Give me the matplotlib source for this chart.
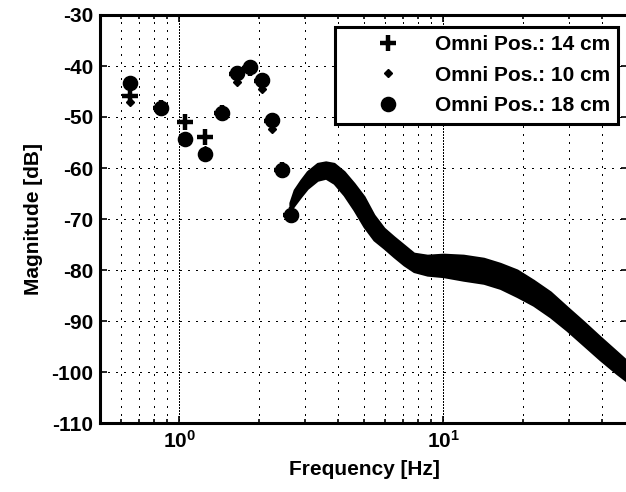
import matplotlib
matplotlib.use("Agg")
import matplotlib.pyplot as plt
from matplotlib.ticker import LogLocator, NullFormatter

# Low-frequency samples (Hz) and magnitudes (dB) for each microphone position
freq_lf = [0.65, 0.85, 1.05, 1.25, 1.45, 1.65, 1.85, 2.05, 2.25, 2.45, 2.65]
db_14cm = [-45.8, -48.2, -50.9, -54.0, -49.2, -41.6, -40.4, -42.9, -50.8, -60.4, -69.2]
db_10cm = [-47.0, -48.4, -54.0, -56.5, -49.4, -43.1, -40.6, -44.6, -52.4, -60.6, -69.0]
db_18cm = [-43.4, -48.2, -54.4, -57.3, -49.2, -41.4, -40.2, -42.7, -50.6, -60.4, -69.2]

# Above ~2.6 Hz the three dense series overlap into one band (upper / lower envelope)
band_freq = [2.62, 2.72, 2.88, 3.05, 3.33, 3.58, 3.85, 4.20, 4.58, 5.00, 5.45, 5.95,
             6.49, 7.08, 7.72, 8.68, 10.0, 11.9, 14.2, 16.4, 19.0, 21.9, 25.4, 29.3,
             33.9, 39.2, 45.3, 50.0]
band_upper = [-66.8, -64.3, -62.4, -60.7, -59.1, -58.8, -59.1, -60.7, -63.0, -65.6,
              -69.2, -71.8, -73.5, -75.1, -76.7, -77.1, -76.9, -77.1, -77.7, -78.7,
              -80.0, -82.0, -84.3, -87.2, -90.1, -93.1, -96.0, -98.0]
band_lower = [-68.5, -67.3, -65.6, -64.0, -62.4, -62.0, -63.0, -65.3, -68.2, -71.5,
              -74.1, -75.7, -77.4, -79.0, -80.3, -81.0, -81.3, -82.0, -82.6, -83.6,
              -85.2, -86.9, -89.2, -91.8, -94.7, -97.6, -100.3, -102.0]

labels = ["Omni Pos.: 14 cm", "Omni Pos.: 10 cm", "Omni Pos.: 18 cm"]
y_ticks = list(range(-110, -29, 10))

plt.rcParams.update({
    "font.family": ["Liberation Sans", "DejaVu Sans"],
    "font.weight": "bold",
    "font.size": 15,
    "axes.unicode_minus": False,
    "mathtext.fontset": "custom",
    "mathtext.rm": "Liberation Sans:bold",
    "mathtext.bf": "Liberation Sans:bold",
    "mathtext.default": "bf",
})

fig = plt.figure(figsize=(6.26, 4.92), dpi=100)
ax = fig.add_axes([100 / 626, 1 - 423 / 492, 528 / 626, 408 / 492])

ax.set_xscale("log")
ax.set_xlim(0.5, 50)
ax.set_ylim(-110, -30)
ax.set_yticks(y_ticks)
ax.xaxis.set_minor_locator(LogLocator(base=10, subs=range(2, 10)))
ax.xaxis.set_minor_formatter(NullFormatter())

# dotted grid
grid_kw = dict(color="k", lw=1.0, antialiased=False)
ax.grid(True, which="major", axis="y", linestyle=(0, (1.2, 5.0)), **grid_kw)
ax.grid(True, which="minor", axis="x", linestyle=(0, (1.2, 5.0)), **grid_kw)
ax.grid(True, which="major", axis="x", linestyle=(0, (1.0, 1.2)), **grid_kw)
ax.set_axisbelow(True)

# overlapping dense response
ax.fill_between(band_freq, band_upper, band_lower, color="black", lw=1.5,
                edgecolor="black", zorder=3)

h18, = ax.plot(freq_lf, db_18cm, linestyle="none", marker="o", ms=10,
               mfc="black", mec="black", mew=1.2, zorder=4)
h14, = ax.plot(freq_lf, db_14cm, linestyle="none", marker="+", ms=11.5,
               mec="black", mew=3.2, zorder=5)
h10, = ax.plot(freq_lf, db_10cm, linestyle="none", marker="D", ms=4,
               mfc="black", mec="black", zorder=6)

for s in ax.spines.values():
    s.set_linewidth(2.2)
ax.tick_params(which="both", direction="in", top=True, right=True, width=1.2)
ax.tick_params(which="major", length=5, pad=5)
ax.tick_params(which="minor", length=3)

ax.set_xlabel("Frequency [Hz]", fontweight="bold", labelpad=6)
ax.set_ylabel("Magnitude [dB]", fontweight="bold", labelpad=6)

leg = ax.legend([h14, h10, h18], labels, loc="upper right",
                bbox_to_anchor=(0.981, 0.9706), borderaxespad=0,
                handlelength=4.3, handletextpad=0.1, labelspacing=0.55,
                borderpad=0.4, numpoints=1, fancybox=False, framealpha=1,
                edgecolor="black", prop={"weight": "bold", "size": 15})
leg.get_frame().set_linewidth(2.2)
leg.set_zorder(10)

fig.savefig("out.png", dpi=100)
